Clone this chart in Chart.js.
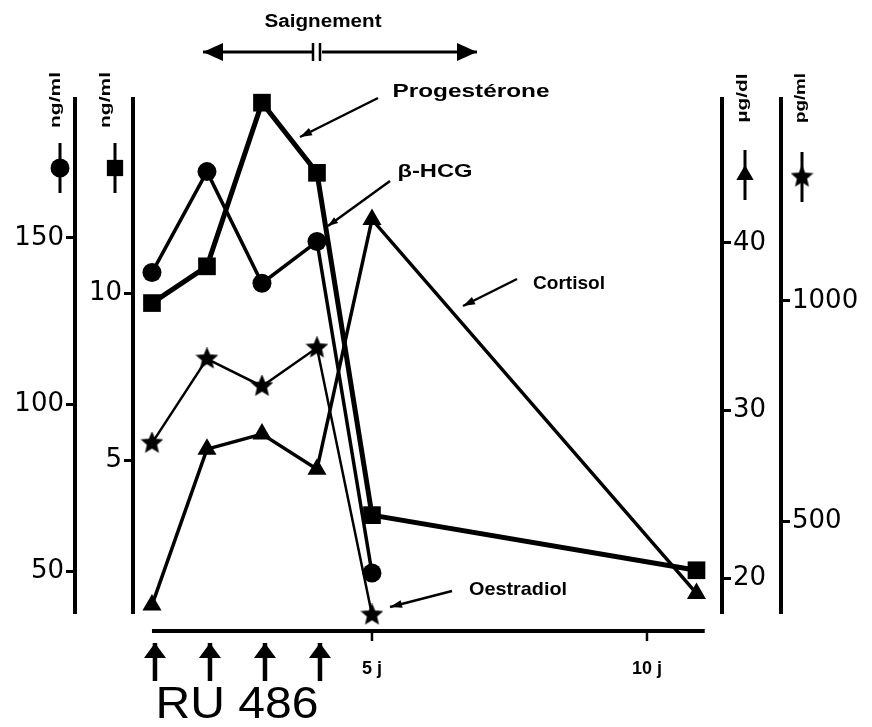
<!DOCTYPE html>
<html>
<head>
<meta charset="utf-8">
<title>RU 486 - dosages hormonaux</title>
<script src="https://cdn.jsdelivr.net/npm/chart.js@4.4.1/dist/chart.umd.min.js"></script>
<style>
  html, body { margin: 0; padding: 0; background: #fff; }
  canvas { display: block; }
</style>
</head>
<body>
<canvas id="hormoneChart" width="872" height="727"></canvas>
<script>
'use strict';

// jours de prelevement
var daysShort = [1, 2, 3, 4, 5];
var daysLong = [1, 2, 3, 4, 5, 10.9];

var hcgValues = [139.6, 169.9, 136.4, 148.9, 49.4];           // ng/ml (rond)
var progesteroneValues = [9.7, 10.8, 15.7, 13.6, 3.35, 1.7];  // ng/ml (carre)
var oestradiolValues = [678, 869, 807, 894, 289];             // pg/ml (etoile)
var cortisolValues = [18.4, 27.7, 28.6, 26.5, 41.4, 19.1];    // ug/dl (triangle)

var hcgTicks = [50, 100, 150];
var progesteroneTicks = [5, 10];
var cortisolTicks = [20, 30, 40];
var oestradiolTicks = [500, 1000];
var dayTicks = [5, 10];
var ruDays = [1, 2, 3, 4];

function toPoints(days, values) {
  var pts = [];
  for (var i = 0; i < values.length; i++) {
    pts.push({x: days[i], y: values[i]});
  }
  return pts;
}

function makeStarCanvas(outer, lw) {
  var s = Math.ceil(outer * 2 + lw * 2);
  var c = document.createElement('canvas');
  c.width = s;
  c.height = s;
  var g = c.getContext('2d');
  g.translate(s / 2, s / 2);
  g.beginPath();
  for (var i = 0; i < 10; i++) {
    var r = i % 2 === 0 ? outer : outer * 0.45;
    var a = -Math.PI / 2 + i * Math.PI / 5;
    g.lineTo(r * Math.cos(a), r * Math.sin(a));
  }
  g.closePath();
  g.fillStyle = '#000';
  g.fill();
  g.lineWidth = lw;
  g.strokeStyle = '#000';
  g.stroke();
  return c;
}

var starImg = makeStarCanvas(10, 1.5);

function yAxis(position, weight, min, max, tickValues, width) {
  return {
    type: 'linear',
    position: position,
    weight: weight,
    min: min,
    max: max,
    border: {display: true, color: '#000', width: 4},
    grid: {drawOnChartArea: false, drawTicks: true, tickLength: 9, lineWidth: 3, color: '#000'},
    ticks: {
      color: '#000',
      font: {family: 'DejaVu Sans', size: 26},
      padding: 2,
      callback: function (v) { return String(v); }
    },
    afterBuildTicks: function (scale) {
      scale.ticks = tickValues.map(function (v) { return {value: v}; });
    },
    afterFit: function (scale) {
      scale.width = width;
    }
  };
}

function fitText(ctx, text, cx, cy, width, font, angle) {
  ctx.save();
  ctx.font = font;
  ctx.textAlign = 'center';
  ctx.textBaseline = 'middle';
  ctx.fillStyle = '#000';
  var w = ctx.measureText(text).width;
  ctx.translate(cx, cy);
  ctx.rotate(angle || 0);
  ctx.scale(width / w, 1);
  ctx.fillText(text, 0, 0);
  ctx.restore();
}

function arrowHead(ctx, x1, y1, x2, y2, len, half) {
  var a = Math.atan2(y2 - y1, x2 - x1);
  ctx.beginPath();
  ctx.moveTo(x2, y2);
  ctx.lineTo(x2 - len * Math.cos(a) + half * Math.sin(a), y2 - len * Math.sin(a) - half * Math.cos(a));
  ctx.lineTo(x2 - len * Math.cos(a) - half * Math.sin(a), y2 - len * Math.sin(a) + half * Math.cos(a));
  ctx.closePath();
  ctx.fill();
}

function arrow(ctx, x1, y1, x2, y2, lw, len, half) {
  ctx.lineWidth = lw;
  ctx.beginPath();
  ctx.moveTo(x1, y1);
  ctx.lineTo(x2, y2);
  ctx.stroke();
  arrowHead(ctx, x1, y1, x2, y2, len, half);
}

function legendMark(ctx, x, y, style, radius) {
  ctx.lineWidth = 3;
  ctx.beginPath();
  ctx.moveTo(x, y - 25);
  ctx.lineTo(x, y + 25);
  ctx.stroke();
  Chart.helpers.drawPoint(ctx, {pointStyle: style, radius: radius, rotation: 0, borderWidth: 0}, x, y);
}

var annotationPlugin = {
  id: 'annotations',
  afterDraw: function (chart) {
    var ctx = chart.ctx;
    var xs = chart.scales.x;
    var yC = chart.scales.yC;
    var yS = chart.scales.yS;
    var yT = chart.scales.yT;
    var yE = chart.scales.yE;
    ctx.save();
    ctx.fillStyle = '#000';
    ctx.strokeStyle = '#000';
    ctx.lineCap = 'butt';

    // unites des axes
    var unitFont = 'bold 14px "Liberation Sans"';
    fitText(ctx, 'ng/ml', yC.right - 19, 100, 56, unitFont, -Math.PI / 2);
    fitText(ctx, 'ng/ml', yS.right - 27, 100, 56, unitFont, -Math.PI / 2);
    fitText(ctx, 'µg/dl', yT.left + 21, 98, 49, unitFont, -Math.PI / 2);
    fitText(ctx, 'pg/ml', yE.left + 20, 98, 50, unitFont, -Math.PI / 2);

    legendMark(ctx, yC.right - 15, 168, 'circle', 9.5);
    legendMark(ctx, yS.right - 18, 168, 'rect', 11.5);
    legendMark(ctx, yT.left + 23, 175, 'triangle', 10);
    legendMark(ctx, yE.left + 21, 177, starImg, 10);

    // saignement
    fitText(ctx, 'Saignement', 323, 22, 117, 'bold 18px "Liberation Sans"', 0);
    arrow(ctx, 312, 52, 203, 52, 3, 20, 9);
    arrow(ctx, 322, 52, 477, 52, 3, 20, 9);
    ctx.lineWidth = 2.5;
    ctx.beginPath();
    ctx.moveTo(313, 43); ctx.lineTo(313, 61);
    ctx.moveTo(320, 43); ctx.lineTo(320, 61);
    ctx.stroke();

    // noms des courbes
    var nameFont = 'bold 19px "Liberation Sans"';
    fitText(ctx, 'Progestérone', 471, 92, 157, nameFont, 0);
    arrow(ctx, 378, 98, 300, 137, 2.5, 12, 4);
    fitText(ctx, 'β-HCG', 435, 172, 75, nameFont, 0);
    arrow(ctx, 390, 181, 328, 226, 2.5, 10, 3.5);
    fitText(ctx, 'Cortisol', 569, 284, 72, nameFont, 0);
    arrow(ctx, 517, 279, 463, 306, 2.5, 12, 4);
    fitText(ctx, 'Oestradiol', 518, 590, 98, nameFont, 0);
    arrow(ctx, 452, 591, 390, 607, 2.5, 12, 4);

    // axe des jours
    var axisY = chart.chartArea.bottom + 19;
    ctx.lineWidth = 4;
    ctx.beginPath();
    ctx.moveTo(xs.getPixelForValue(1), axisY);
    ctx.lineTo(xs.getPixelForValue(11.05), axisY);
    ctx.stroke();
    ctx.lineWidth = 2.5;
    dayTicks.forEach(function (d) {
      var px = xs.getPixelForValue(d);
      ctx.beginPath();
      ctx.moveTo(px, axisY);
      ctx.lineTo(px, axisY + 10);
      ctx.stroke();
    });

    // prises de RU 486
    ruDays.forEach(function (d) {
      var px = xs.getPixelForValue(d) + 3;
      arrow(ctx, px, 681, px, 643, 4.5, 15, 11);
    });
    fitText(ctx, 'RU 486', 237, 706, 163, '44px "Liberation Sans"', 0);

    ctx.restore();
  }
};

var ctx = document.getElementById('hormoneChart').getContext('2d');
var hormoneChart = new Chart(ctx, {
  type: 'line',
  data: {
    datasets: [
      {
        label: 'β-HCG',
        data: toPoints(daysShort, hcgValues),
        yAxisID: 'yC',
        borderColor: '#000',
        borderWidth: 3.5,
        pointStyle: 'circle',
        pointRadius: 9.5,
        pointBackgroundColor: '#000',
        pointBorderWidth: 0,
        tension: 0,
        clip: false
      },
      {
        label: 'Progestérone',
        data: toPoints(daysLong, progesteroneValues),
        yAxisID: 'yS',
        borderColor: '#000',
        borderWidth: 5,
        pointStyle: 'rect',
        pointRadius: 12.5,
        pointBackgroundColor: '#000',
        pointBorderWidth: 0,
        tension: 0,
        clip: false
      },
      {
        label: 'Oestradiol',
        data: toPoints(daysShort, oestradiolValues),
        yAxisID: 'yE',
        borderColor: '#000',
        borderWidth: 2.5,
        pointStyle: starImg,
        pointRadius: 10,
        tension: 0,
        clip: false
      },
      {
        label: 'Cortisol',
        data: toPoints(daysLong, cortisolValues),
        yAxisID: 'yT',
        borderColor: '#000',
        borderWidth: 3.5,
        pointStyle: 'triangle',
        pointRadius: 11,
        pointBackgroundColor: '#000',
        pointBorderWidth: 0,
        tension: 0,
        clip: false
      }
    ]
  },
  options: {
    responsive: false,
    animation: false,
    layout: {padding: {top: 99, bottom: 0, left: 0, right: 0}},
    plugins: {legend: {display: false}, tooltip: {enabled: false}},
    scales: {
      x: {
        type: 'linear',
        position: 'bottom',
        min: 0.655,
        max: 11.364,
        border: {display: false},
        grid: {display: false},
        ticks: {
          color: '#000',
          font: {family: 'Liberation Sans', size: 18, weight: 'bold'},
          padding: 38,
          maxRotation: 0,
          autoSkip: false,
          callback: function (v) { return v + ' j'; }
        },
        afterBuildTicks: function (scale) {
          scale.ticks = dayTicks.map(function (v) { return {value: v}; });
        },
        afterFit: function (scale) {
          scale.height = 115;
        }
      },
      yC: yAxis('left', 2, 37.7, 191.7, hcgTicks, 75),
      yS: yAxis('left', 1, 0.45, 15.81, progesteroneTicks, 58),
      yT: yAxis('right', 1, 17.99, 48.58, cortisolTicks, 59),
      yE: yAxis('right', 2, 295.4, 1457.6, oestradiolTicks, 91)
    }
  },
  plugins: [annotationPlugin]
});
</script>
</body>
</html>
